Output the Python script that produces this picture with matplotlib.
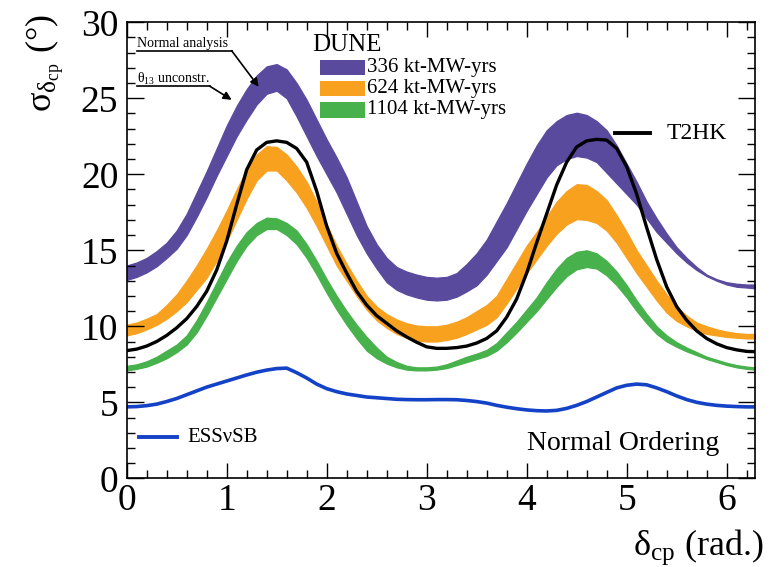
import numpy as np
import matplotlib
matplotlib.use("Agg")
import matplotlib.pyplot as plt
from matplotlib.patches import Rectangle
from matplotlib.ticker import MultipleLocator

plt.rcParams['font.family'] = ['Liberation Serif', 'DejaVu Serif']
plt.rcParams['mathtext.fontset'] = 'stix'

# delta_cp grid (rad.)
dcp = [0.0, 0.1, 0.2, 0.3, 0.4, 0.5, 0.6, 0.7, 0.8, 0.9,
       1.0, 1.1, 1.2, 1.3, 1.4, 1.5, 1.6, 1.7, 1.8, 1.9,
       2.0, 2.1, 2.2, 2.3, 2.4, 2.5, 2.6, 2.7, 2.8, 2.9,
       3.0, 3.1, 3.2, 3.3, 3.4, 3.5, 3.6, 3.7, 3.8, 3.9,
       4.0, 4.1, 4.2, 4.3, 4.4, 4.5, 4.6, 4.7, 4.8, 4.9,
       5.0, 5.1, 5.2, 5.3, 5.4, 5.5, 5.6, 5.7, 5.8, 5.9,
       6.0, 6.1, 6.2, 6.283]

# DUNE 336 kt-MW-yrs band
dune336_hi = [14.0, 14.2, 14.5, 14.95, 15.5, 16.3, 17.4, 18.8, 20.2, 21.7,
              23.2, 24.5, 25.6, 26.5, 27.1, 27.25, 26.9, 26.0, 24.9, 23.6,
              22.3, 21.1, 19.8, 18.2, 16.6, 15.4, 14.5, 13.9, 13.6, 13.4,
              13.25, 13.2, 13.25, 13.5, 14.1, 14.8, 15.7, 16.9, 18.1, 19.4,
              20.7, 21.9, 22.9, 23.5, 23.9, 24.05, 23.9, 23.5, 22.9, 21.9,
              20.7, 19.5, 18.2, 17.1, 16.1, 15.2, 14.5, 13.9, 13.4, 13.1,
              12.9, 12.8, 12.75, 12.75]
dune336_lo = [13.05, 13.25, 13.55, 13.95, 14.5, 15.1, 16.0, 17.2, 18.5, 19.9,
              21.2, 22.5, 23.6, 24.6, 25.3, 25.5, 25.0, 23.8, 22.5, 21.2,
              20.0, 18.8, 17.4, 16.0, 14.8, 13.8, 12.9, 12.4, 12.1, 11.9,
              11.75, 11.7, 11.75, 11.95, 12.3, 12.7, 13.4, 14.3, 15.2, 16.4,
              17.6, 18.7, 19.8, 20.6, 21.0, 21.2, 21.1, 20.8, 20.1, 19.4,
              18.7, 18.0, 17.1, 16.2, 15.5, 14.8, 14.2, 13.7, 13.3, 13.0,
              12.75, 12.6, 12.55, 12.5]

# DUNE 624 kt-MW-yrs band
dune624_hi = [10.1, 10.25, 10.5, 10.8, 11.4, 12.1, 13.0, 14.0, 15.1, 16.3,
              17.6, 19.0, 20.3, 21.3, 21.85, 21.8, 21.3, 20.5, 19.5, 18.2,
              16.7, 15.3, 14.1, 13.0, 12.0, 11.3, 10.8, 10.45, 10.2, 10.05,
              10.0, 10.0, 10.1, 10.3, 10.6, 11.0, 11.4, 12.0, 13.1, 14.2,
              15.3, 16.2, 17.2, 18.2, 18.9, 19.35, 19.3, 18.9, 18.3, 17.3,
              16.2, 15.0, 14.0, 13.0, 12.1, 11.3, 10.7, 10.25, 10.0, 9.8,
              9.65, 9.55, 9.5, 9.5]
dune624_lo = [9.4, 9.55, 9.8, 10.1, 10.5, 11.0, 11.6, 12.4, 13.2, 14.3,
              15.6, 17.0, 18.4, 19.6, 20.25, 20.25, 19.6, 18.8, 17.8, 16.6,
              15.3, 14.0, 13.0, 12.0, 11.1, 10.4, 9.9, 9.5, 9.25, 9.05,
              9.0, 9.0, 9.1, 9.25, 9.5, 9.8, 10.1, 10.6, 11.5, 12.5,
              13.5, 14.4, 15.3, 16.1, 16.7, 17.05, 17.0, 16.8, 16.3, 15.5,
              14.5, 13.5, 12.6, 11.7, 10.9, 10.35, 10.0, 9.7, 9.5, 9.4,
              9.3, 9.25, 9.2, 9.2]

# DUNE 1104 kt-MW-yrs band
dune1104_hi = [7.4, 7.5, 7.7, 8.0, 8.4, 8.8, 9.4, 10.4, 11.6, 12.9,
               14.2, 15.3, 16.2, 16.8, 17.15, 17.1, 16.8, 16.3, 15.4, 14.3,
               13.1, 12.0, 11.0, 10.1, 9.3, 8.6, 8.0, 7.65, 7.4, 7.3,
               7.3, 7.35, 7.5, 7.75, 8.0, 8.2, 8.45, 8.9, 9.6, 10.3,
               11.1, 11.9, 12.9, 13.8, 14.5, 14.9, 15.0, 14.8, 14.3, 13.6,
               12.7, 11.7, 10.8, 10.0, 9.4, 8.95, 8.6, 8.3, 8.0, 7.8,
               7.6, 7.45, 7.35, 7.3]
dune1104_lo = [7.1, 7.2, 7.35, 7.6, 7.9, 8.3, 8.8, 9.6, 10.7, 11.9,
               13.1, 14.3, 15.3, 16.0, 16.4, 16.4, 16.0, 15.4, 14.5, 13.4,
               12.2, 11.1, 10.1, 9.2, 8.4, 7.9, 7.55, 7.3, 7.15, 7.1,
               7.1, 7.15, 7.25, 7.45, 7.65, 7.85, 8.05, 8.4, 8.95, 9.6,
               10.3, 11.0, 11.8, 12.6, 13.3, 13.75, 13.9, 13.8, 13.35, 12.7,
               11.9, 11.0, 10.2, 9.5, 9.0, 8.65, 8.35, 8.1, 7.85, 7.65,
               7.45, 7.3, 7.2, 7.15]

t2hk = [8.4, 8.5, 8.7, 9.0, 9.4, 9.9, 10.5, 11.3, 12.3, 13.7,
        15.6, 18.0, 20.3, 21.6, 22.1, 22.2, 22.1, 21.7, 20.8, 18.9,
        16.6, 14.8, 13.5, 12.3, 11.4, 10.7, 10.2, 9.7, 9.3, 8.95,
        8.65, 8.55, 8.55, 8.6, 8.7, 8.9, 9.2, 9.7, 10.6, 11.8,
        13.5, 15.5, 17.4, 19.3, 20.8, 21.8, 22.2, 22.3, 22.25, 21.7,
        20.5, 18.7, 16.5, 14.4, 12.6, 11.3, 10.4, 9.7, 9.2, 8.85,
        8.6, 8.45, 8.35, 8.33]

essnusb = [4.7, 4.72, 4.78, 4.88, 5.05, 5.25, 5.5, 5.75, 6.0, 6.2,
           6.4, 6.6, 6.8, 6.98, 7.12, 7.22, 7.25, 6.95, 6.6, 6.2,
           5.9, 5.7, 5.55, 5.45, 5.35, 5.3, 5.25, 5.2, 5.18, 5.17,
           5.17, 5.18, 5.18, 5.17, 5.12, 5.05, 4.95, 4.8, 4.68, 4.58,
           4.5, 4.45, 4.43, 4.47, 4.6, 4.8, 5.05, 5.35, 5.65, 5.95,
           6.12, 6.2, 6.15, 5.95, 5.7, 5.42, 5.18, 5.0, 4.88, 4.8,
           4.75, 4.72, 4.7, 4.7]

dune_labels = ['336 kt-MW-yrs', '624 kt-MW-yrs', '1104 kt-MW-yrs']
purple = '#5a4a9e'
orange = '#f7a11f'
green = '#47b14b'
blue = '#1442c6'

fig = plt.figure(figsize=(7.7, 5.67), dpi=100)
ax = fig.add_axes([0.1645, 0.1564, 0.816, 0.8043])

bands = [(dune336_lo, dune336_hi, purple),
         (dune624_lo, dune624_hi, orange),
         (dune1104_lo, dune1104_hi, green)]
for lo, hi, col in bands:
    ax.fill_between(dcp, lo, hi, color=col, lw=0.9, edgecolor=col)

ax.plot(dcp, t2hk, color='black', lw=2.4)
ax.plot(dcp, essnusb, color=blue, lw=2.6)

ax.set_xlim(0, 2 * np.pi)
ax.set_ylim(0, 30)
ax.xaxis.set_major_locator(MultipleLocator(1))
ax.xaxis.set_minor_locator(MultipleLocator(0.2))
ax.yaxis.set_major_locator(MultipleLocator(5))
ax.yaxis.set_minor_locator(MultipleLocator(1))
ax.tick_params(which='both', direction='in', top=True, right=True, width=1.0,
               labelsize=27)
ax.tick_params(axis='x', which='major', length=11, pad=4)
ax.tick_params(axis='y', which='major', length=12, pad=6)
ax.tick_params(which='minor', length=5.5)
for s in ax.spines.values():
    s.set_linewidth(1.2)

fig.text(0.058, 0.975, r'$\mathregular{σ_{δ_{cp}}}$ (°)', rotation=90,
         ha='center', va='top', fontsize=26)
fig.text(0.992, 0.035, r'$\mathregular{δ_{cp}}$ (rad.)', ha='right', va='center',
         fontsize=26)

# DUNE legend
ax.text(1.86, 28.5, 'DUNE', fontsize=18, ha='left', va='center')
for i, (lab, col) in enumerate(zip(dune_labels, [purple, orange, green])):
    yc = 27.03 - 1.4 * i
    ax.add_patch(Rectangle((1.93, yc - 0.5), 0.45, 1.0, color=col, lw=0))
    ax.text(2.40, yc, lab, fontsize=15, ha='left', va='center')

# T2HK legend
ax.plot([4.88, 5.23], [22.7, 22.7], color='black', lw=2.8)
ax.text(5.40, 22.7, 'T2HK', fontsize=17, ha='left', va='center')

# ESSnuSB legend
ax.plot([0.12, 0.5], [2.7, 2.7], color=blue, lw=2.8)
ax.text(0.61, 2.7, 'ESSνSB', fontsize=15, ha='left', va='center')

ax.text(5.93, 2.3, 'Normal Ordering', fontsize=20, ha='right', va='center')

# annotations
ax.text(0.10, 28.6, 'Normal analysis', fontsize=10, ha='left', va='center')
ax.plot([0.10, 1.05], [28.13, 28.13], color='black', lw=1.2)
ax.annotate('', xy=(1.32, 25.76), xytext=(1.05, 28.13),
            arrowprops=dict(arrowstyle='-|>', color='black', lw=1.2,
                            mutation_scale=12, shrinkA=0, shrinkB=0))
ax.text(0.10, 26.3, r'$\mathregular{θ_{13}}$ unconstr.', fontsize=10,
        ha='left', va='center')
ax.plot([0.10, 0.83], [25.8, 25.8], color='black', lw=1.2)
ax.annotate('', xy=(1.05, 24.9), xytext=(0.83, 25.8),
            arrowprops=dict(arrowstyle='-|>', color='black', lw=1.2,
                            mutation_scale=12, shrinkA=0, shrinkB=0))

fig.savefig('out.png', dpi=100)
